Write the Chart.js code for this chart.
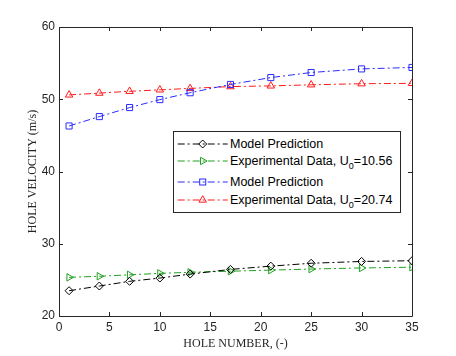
<!DOCTYPE html>
<html><head><meta charset="utf-8">
<script src="https://cdn.jsdelivr.net/npm/chart.js@4/dist/chart.umd.min.js"></script>
<style>
html,body{margin:0;padding:0;background:#fff;}
#wrap{position:relative;width:456px;height:356px;}
#legend{position:absolute;left:173px;top:131px;width:226px;height:80px;border:1px solid #262626;background:#fff;font-family:"Liberation Sans",Arial,sans-serif;font-size:12.5px;color:#000;}
.row{position:absolute;left:0;height:18px;line-height:18px;white-space:nowrap;}
.row svg{position:absolute;left:0;top:0;}
.row span{position:absolute;left:56px;top:0;}
sub{font-size:9px;vertical-align:-4px;line-height:0;}
</style></head>
<body><div id="wrap"><canvas id="c" width="456" height="356"></canvas><div id="legend"></div></div>
<script>
const holes = [1, 4, 7, 10, 13, 17, 21, 25, 30, 35];
const modelLow = [23.5, 24.15, 24.8, 25.25, 25.8, 26.45, 26.9, 27.3, 27.55, 27.65];
const expLow = [25.35, 25.5, 25.7, 25.9, 26.05, 26.2, 26.35, 26.5, 26.65, 26.75];
const modelHigh = [46.3, 47.6, 48.85, 49.95, 50.9, 52.05, 53.0, 53.7, 54.2, 54.4];
const expHigh = [50.6, 50.85, 51.1, 51.3, 51.5, 51.75, 51.85, 52.0, 52.15, 52.2];
const seriesNames = ["Model Prediction", "Experimental Data, U<sub>0</sub>=10.56", "Model Prediction", "Experimental Data, U<sub>0</sub>=20.74"];
const xTitle = "HOLE NUMBER, (-)";
const yTitle = "HOLE VELOCITY (m/s)";

const dash = [7, 3, 2, 3];
const colors = ["#000000", "#1fa01f", "#2b2bff", "#ff1a1a"];
const styles = [
  {pointStyle: 'rectRot', r: 4, rot: 0},
  {pointStyle: 'triangle', r: 4.3, rot: 90},
  {pointStyle: 'rect', r: 4.3, rot: 0},
  {pointStyle: 'triangle', r: 4.3, rot: 0}
];
const vals = [modelLow, expLow, modelHigh, expHigh];

function mk(i) {
  return {
    label: seriesNames[i].replace(/<\/?sub>/g, ''),
    data: holes.map((h, k) => ({x: h, y: vals[i][k]})),
    borderColor: colors[i],
    backgroundColor: 'rgba(0,0,0,0)',
    pointBackgroundColor: 'rgba(0,0,0,0)',
    pointBorderColor: colors[i],
    borderWidth: 1,
    borderDash: dash,
    pointStyle: styles[i].pointStyle,
    pointRadius: styles[i].r,
    pointRotation: styles[i].rot,
    pointBorderWidth: 1,
    tension: 0
  };
}

const axisColor = '#262626';
const boxPlugin = {
  id: 'box',
  afterDatasetsDraw(chart) {
    const {ctx, chartArea: a, scales} = chart;
    ctx.save();
    ctx.strokeStyle = axisColor;
    ctx.lineWidth = 1;
    ctx.beginPath();
    ctx.rect(Math.round(a.left) + 0.5, Math.round(a.top) + 0.5, Math.round(a.right - a.left), Math.round(a.bottom - a.top));
    const L = 4;
    scales.x.ticks.forEach(t => {
      const px = Math.round(scales.x.getPixelForValue(t.value)) + 0.5;
      ctx.moveTo(px, a.bottom); ctx.lineTo(px, a.bottom - L);
      ctx.moveTo(px, a.top); ctx.lineTo(px, a.top + L);
    });
    scales.y.ticks.forEach(t => {
      const py = Math.round(scales.y.getPixelForValue(t.value)) + 0.5;
      ctx.moveTo(a.left, py); ctx.lineTo(a.left + L, py);
      ctx.moveTo(a.right, py); ctx.lineTo(a.right - L, py);
    });
    ctx.stroke();
    ctx.restore();
  }
};

new Chart(document.getElementById('c'), {
  type: 'line',
  data: {datasets: [0, 1, 2, 3].map(mk)},
  plugins: [boxPlugin],
  options: {
    responsive: false,
    animation: false,
    events: [],
    layout: {padding: {top: 27, right: 44, left: 0, bottom: 0}},
    plugins: {legend: {display: false}, tooltip: {enabled: false}},
    scales: {
      x: {
        type: 'linear', min: 0, max: 35,
        ticks: {stepSize: 5, color: axisColor, padding: 4, font: {family: '"Liberation Sans", Arial', size: 12}, maxRotation: 0},
        grid: {display: false, drawTicks: false, tickLength: 0}, border: {display: false},
        title: {display: true, text: xTitle, color: axisColor, font: {family: '"Liberation Serif", "Times New Roman"', size: 12}, padding: {top: 0, bottom: 5}},
        afterFit(s) { s.height = 40; }
      },
      y: {
        type: 'linear', min: 20, max: 60,
        ticks: {stepSize: 10, color: axisColor, padding: 4, font: {family: '"Liberation Sans", Arial', size: 12}},
        grid: {display: false, drawTicks: false, tickLength: 0}, border: {display: false},
        title: {display: true, text: yTitle, color: axisColor, font: {family: '"Liberation Serif", "Times New Roman"', size: 12}, padding: {top: 26, bottom: 0}},
        afterFit(s) { s.width = 59; }
      }
    }
  }
});

// HTML legend
const rowCenters = [11.7, 29, 50, 68];
const lg = document.getElementById('legend');
for (let i = 0; i < 4; i++) {
  const row = document.createElement('div');
  row.className = 'row';
  row.style.top = (rowCenters[i] - 9) + 'px';
  row.style.width = '226px';
  const c = colors[i];
  const cx = 28.7, cy = 9;
  let marker = '';
  if (i === 0) marker = `<polygon points="${cx},${cy-4} ${cx+4},${cy} ${cx},${cy+4} ${cx-4},${cy}" fill="none" stroke="${c}"/>`;
  if (i === 1) marker = `<polygon points="${cx+4.3},${cy} ${cx-2.15},${cy-3.7} ${cx-2.15},${cy+3.7}" fill="none" stroke="${c}"/>`;
  if (i === 2) marker = `<rect x="${cx-3}" y="${cy-3}" width="6" height="6" fill="none" stroke="${c}"/>`;
  if (i === 3) marker = `<polygon points="${cx},${cy-4.3} ${cx+3.7},${cy+2.15} ${cx-3.7},${cy+2.15}" fill="none" stroke="${c}"/>`;
  row.innerHTML = `<svg width="56" height="18"><line x1="3.7" y1="${cy}" x2="53.7" y2="${cy}" stroke="${c}" stroke-width="1" stroke-dasharray="${dash.join(' ')}"/>${marker}</svg><span>${seriesNames[i]}</span>`;
  lg.appendChild(row);
}
</script>
</body></html>
